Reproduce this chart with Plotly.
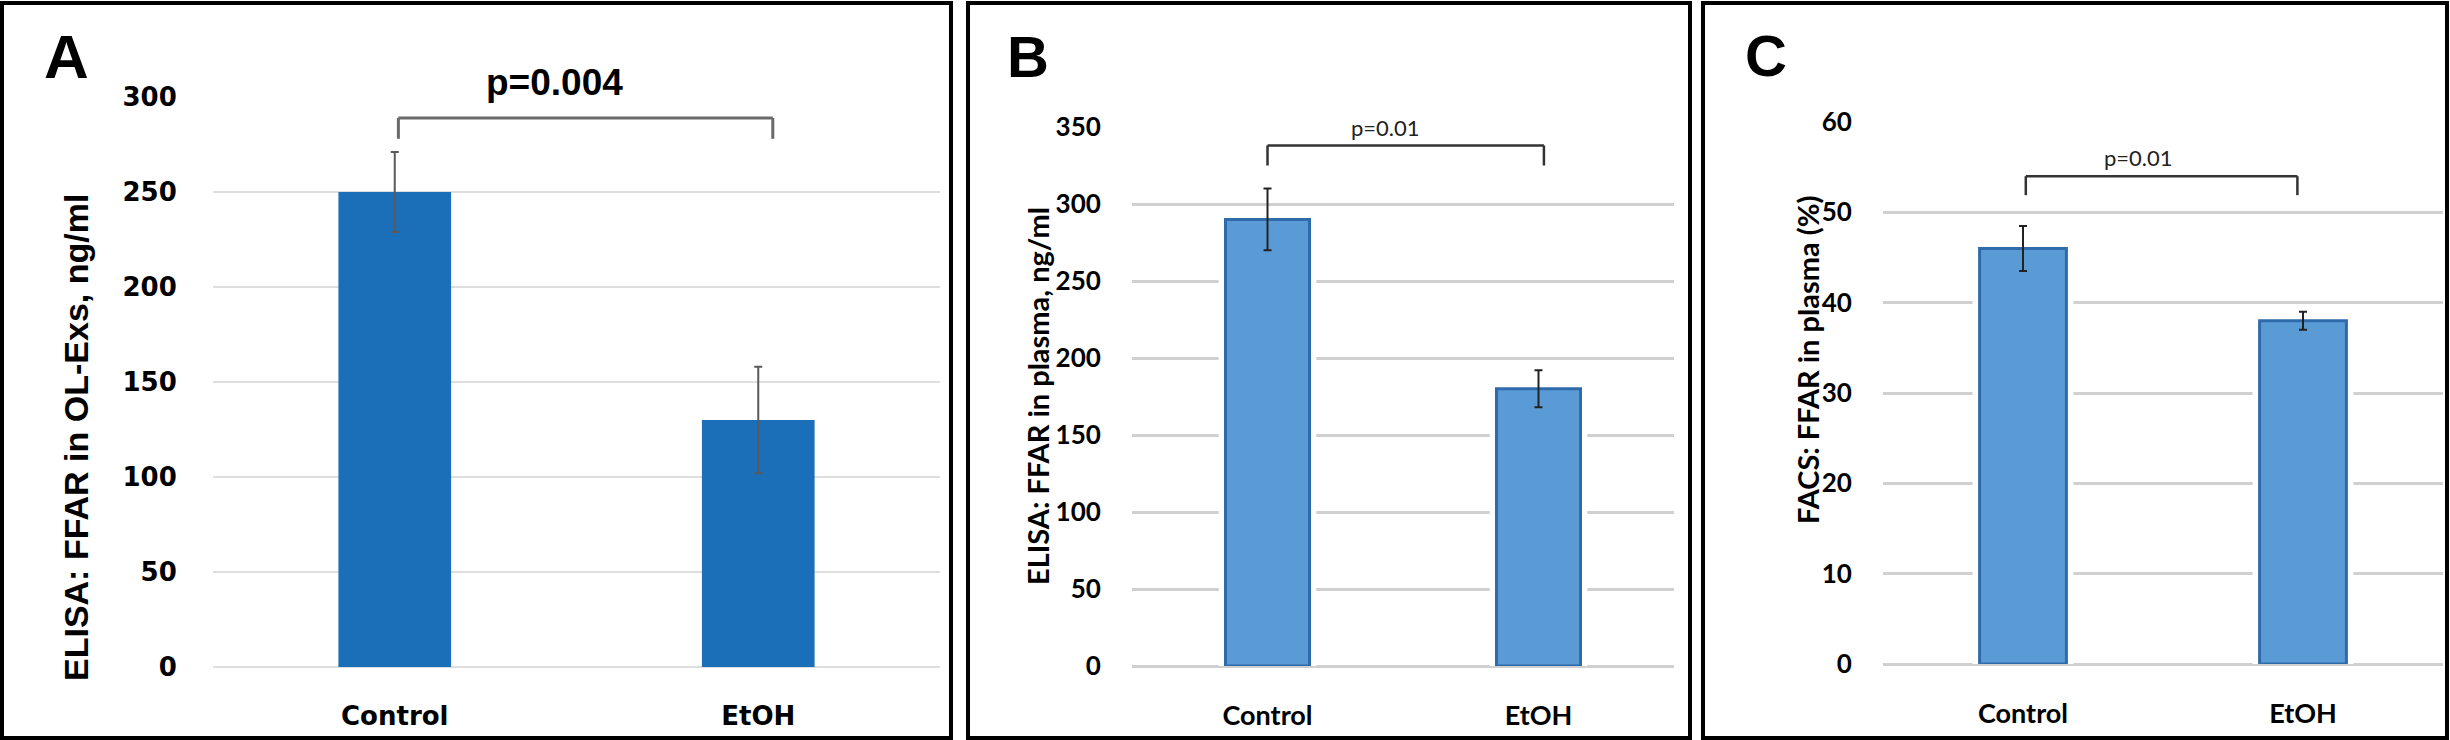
import plotly.graph_objects as go

W, H = 2450, 740

categories = ["Control", "EtOH"]

a_means = [250, 130]
a_err = [21, 28]
b_means = [290, 180]
b_err = [20, 12]
c_means = [46, 38]
c_err = [2.5, 1]

a_bracket = [289, 278]
b_bracket = [338, 325]
c_bracket = [54.0, 51.9]

p_a = "p=0.004"
p_b = "p=0.01"
p_c = "p=0.01"

ylab_a = "ELISA: FFAR in OL-Exs, ng/ml"
ylab_b = "ELISA: FFAR in plasma, ng/ml"
ylab_c = "FACS: FFAR in plasma (%)"


def fx(px):
    return px / W


def fy(py):
    return 1 - py / H


BLUE_A = "#1B6EB8"
BLUE_B = "#5B9BD5"
EDGE_B = "#2F6BAA"
GRID_A = "#dedede"
GRID_B = "#d0d0d0"

fig = go.Figure()

# Panel A
fig.add_trace(go.Bar(
    x=categories, y=a_means, width=0.31, xaxis="x", yaxis="y",
    marker=dict(color=BLUE_A, line=dict(width=0)),
    error_y=dict(type="data", array=a_err, color="#5a5a5a", thickness=2, width=4),
    hoverinfo="skip"))

# Panel B (white halo + bar)
fig.add_trace(go.Bar(
    x=categories, y=b_means, width=0.36, xaxis="x2", yaxis="y2",
    marker=dict(color="white", line=dict(width=0)), hoverinfo="skip"))
fig.add_trace(go.Bar(
    x=categories, y=b_means, width=0.31, xaxis="x2", yaxis="y2",
    marker=dict(color=BLUE_B, line=dict(color=EDGE_B, width=3)),
    error_y=dict(type="data", array=b_err, color="#222222", thickness=2, width=4),
    hoverinfo="skip"))

# Panel C (white halo + bar)
fig.add_trace(go.Bar(
    x=categories, y=c_means, width=0.36, xaxis="x3", yaxis="y3",
    marker=dict(color="white", line=dict(width=0)), hoverinfo="skip"))
fig.add_trace(go.Bar(
    x=categories, y=c_means, width=0.31, xaxis="x3", yaxis="y3",
    marker=dict(color=BLUE_B, line=dict(color=EDGE_B, width=3)),
    error_y=dict(type="data", array=c_err, color="#222222", thickness=2, width=4),
    hoverinfo="skip"))

font_a_tick = dict(family="DejaVu Sans", size=26, color="black", weight="bold")
font_b_ytick = dict(family="Lato", size=26, color="black", weight="bold")
font_b_xtick = dict(family="Lato", size=27, color="black", weight="bold")


def xax(domain, anchor, font, ticklen):
    return dict(domain=domain, anchor=anchor, type="category", showgrid=False,
                showline=False, zeroline=False, ticks="outside", ticklen=ticklen,
                tickcolor="rgba(0,0,0,0)", tickfont=font, range=[-0.5, 1.5],
                automargin=False, fixedrange=True)


def yax(domain, anchor, rng, dtick, font, grid, gw, ticklen):
    return dict(domain=domain, anchor=anchor, range=rng, dtick=dtick, tick0=0,
                showgrid=True, gridcolor=grid, gridwidth=gw, zeroline=True,
                zerolinecolor=grid, zerolinewidth=gw, showline=False,
                ticks="outside", ticklen=ticklen, tickcolor="rgba(0,0,0,0)",
                tickfont=font, automargin=False, fixedrange=True)


fig.update_layout(
    template="none",
    width=W, height=H, margin=dict(l=0, r=0, t=0, b=0, pad=0, autoexpand=False),
    paper_bgcolor="white", plot_bgcolor="white", showlegend=False,
    barmode="overlay",
    xaxis=xax([fx(213), fx(940)], "y", font_a_tick, 26),
    yaxis=yax([fy(667), fy(97)], "x", [0, 300], 50, font_a_tick, GRID_A, 2, 30),
    xaxis2=xax([fx(1132), fx(1674)], "y2", font_b_xtick, 26),
    yaxis2=yax([fy(666), fy(127)], "x2", [0, 350], 50, font_b_ytick, GRID_B, 3, 25),
    xaxis3=xax([fx(1883), fx(2443)], "y3", font_b_xtick, 26),
    yaxis3=yax([fy(664), fy(122)], "x3", [0, 60], 10, font_b_ytick, GRID_B, 3, 25),
)

shapes = []
# Panel borders
for x0, x1 in [(2, 951), (968, 1690), (1703, 2447)]:
    shapes.append(dict(type="rect", xref="paper", yref="paper",
                       x0=fx(x0), x1=fx(x1), y0=fy(738), y1=fy(3),
                       line=dict(color="black", width=4), fillcolor="rgba(0,0,0,0)"))


def bracket(xr, yr, left, right, top, end, color, width):
    ln = dict(color=color, width=width)
    return [
        dict(type="line", xref=xr, yref=yr, x0=left, x1=left, y0=end, y1=top, line=ln),
        dict(type="line", xref=xr, yref=yr, x0=left, x1=right, y0=top, y1=top, line=ln),
        dict(type="line", xref=xr, yref=yr, x0=right, x1=right, y0=top, y1=end, line=ln),
    ]


shapes += bracket("x", "y", 0.01, 1.04, a_bracket[0], a_bracket[1], "#6a6a6a", 3)
shapes += bracket("x2", "y2", 0.0, 1.02, b_bracket[0], b_bracket[1], "#333333", 2.5)
shapes += bracket("x3", "y3", 0.01, 0.98, c_bracket[0], c_bracket[1], "#333333", 2.5)
fig.update_layout(shapes=shapes)

ann = []
# Panel letters
for letter, x, y, size in [("A", 66, 57, 62), ("B", 1028, 57, 58), ("C", 1766, 55, 58)]:
    ann.append(dict(text=letter, xref="paper", yref="paper", x=fx(x), y=fy(y),
                    xanchor="center", yanchor="middle", showarrow=False,
                    font=dict(family="Liberation Sans", size=size, color="black", weight="bold")))

# y-axis titles
ann.append(dict(text=ylab_a, xref="paper", yref="paper", x=fx(76), y=fy(438),
                textangle=-90, xanchor="center", yanchor="middle", showarrow=False,
                font=dict(family="Liberation Sans", size=34, color="black", weight="bold")))
ann.append(dict(text=ylab_b, xref="paper", yref="paper", x=fx(1037), y=fy(396),
                textangle=-90, xanchor="center", yanchor="middle", showarrow=False,
                font=dict(family="Lato", size=29, color="black", weight="bold")))
ann.append(dict(text=ylab_c, xref="paper", yref="paper", x=fx(1807), y=fy(360),
                textangle=-90, xanchor="center", yanchor="middle", showarrow=False,
                font=dict(family="Lato", size=29, color="black", weight="bold")))

# p-values
ann.append(dict(text=p_a, xref="x", yref="paper", x=0.44, y=fy(83),
                xanchor="center", yanchor="middle", showarrow=False,
                font=dict(family="Liberation Sans", size=37, color="black", weight="bold")))
ann.append(dict(text=p_b, xref="x2", yref="y2", x=0.434, y=350,
                xanchor="center", yanchor="middle", showarrow=False, bgcolor="white",
                font=dict(family="Lato", size=22, color="#222222")))
ann.append(dict(text=p_c, xref="x3", yref="y3", x=0.414, y=56.1,
                xanchor="center", yanchor="middle", showarrow=False,
                font=dict(family="Lato", size=22, color="#222222")))

fig.update_layout(annotations=ann)

fig.write_html("out.html", config={"displayModeBar": False},
               post_script="document.body.style.margin='0';document.body.style.padding='0';")
